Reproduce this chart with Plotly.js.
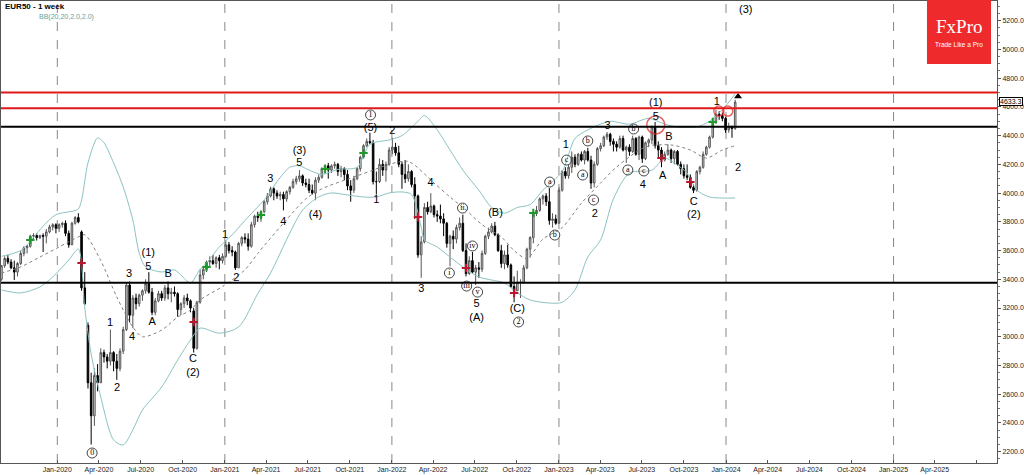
<!DOCTYPE html>
<html><head><meta charset="utf-8">
<script src="https://cdn.plot.ly/plotly-3.0.1.min.js"></script>
<style>html,body{margin:0;padding:0;background:#fff;overflow:hidden}#chart{width:1024px;height:475px}</style>
</head><body><div id="chart"></div>
<script>
// Weekly candles, first week starting 2019-09-01
const firstWeek = Date.UTC(2019, 8, 1);
const open = [
3400,3495,3545,3520,3480,3450,3510,3580,3620,3630,
3700,3705,3690,3705,3700,3730,3765,3780,3755,3780,
3790,3720,3640,3790,3830,3730,3340,3080,2680,2450,
2730,2680,2890,2860,2830,2890,2830,2780,2900,3050,
3360,3150,3270,3230,3290,3320,3370,3310,3170,3250,
3300,3270,3340,3300,3310,3300,3190,3230,3270,3250,
3180,2920,3240,3430,3470,3520,3530,3510,3550,3530,
3560,3640,3600,3590,3480,3650,3690,3680,3630,3780,
3840,3830,3870,3940,3980,4030,4000,3980,3990,3960,
4010,4040,4080,4100,4120,4070,4060,4020,4000,4090,
4110,4170,4190,4160,4190,4200,4150,4170,4130,4050,
4020,4100,4170,4250,4330,4360,4350,4080,4080,4200,
4160,4200,4300,4320,4280,4200,4130,4100,4150,4060,
3980,3570,3660,3900,3870,3910,3850,3840,3820,3790,
3650,3700,3680,3760,3790,3600,3440,3530,3450,3480,
3470,3580,3700,3730,3770,3710,3600,3510,3570,3500,
3350,3320,3380,3380,3480,3610,3690,3860,3880,3960,
3980,3940,3810,3820,3790,4020,4150,4120,4180,4250,
4200,4270,4230,4290,4230,4070,4200,4310,4330,4390,
4410,4360,4340,4320,4380,4300,4320,4290,4380,4270,
4390,4240,4350,4370,4460,4330,4300,4230,4270,4300,
4240,4290,4200,4170,4120,4110,4040,4020,4150,4180,
4270,4320,4390,4500,4550,4540,4520,4440,4460,4450];
const high = [
3500,3560,3570,3540,3530,3520,3600,3630,3640,3710,
3720,3720,3710,3720,3750,3780,3790,3790,3790,3800,
3810,3740,3800,3840,3860,3740,3450,3100,2750,2780,
2810,2920,2910,2880,3050,2900,2880,2920,3070,3380,
3385,3290,3300,3300,3330,3400,3450,3340,3270,3320,
3320,3360,3385,3340,3350,3310,3240,3290,3300,3260,
3200,3250,3470,3480,3530,3560,3570,3560,3570,3580,
3670,3660,3630,3600,3660,3700,3720,3720,3800,3850,
3870,3880,3950,4000,4045,4040,4020,4010,4010,4020,
4050,4100,4120,4160,4130,4100,4100,4060,4110,4130,
4180,4200,4210,4200,4220,4210,4190,4180,4160,4090,
4120,4180,4260,4340,4380,4420,4370,4150,4240,4230,
4220,4320,4385,4350,4330,4220,4230,4200,4160,4110,
3990,3700,3930,3940,4000,3920,3880,3920,3860,3800,
3710,3740,3780,3830,3850,3650,3560,3590,3500,3520,
3600,3710,3760,3790,3800,3720,3640,3600,3640,3510,
3420,3460,3400,3500,3620,3700,3880,3910,3970,3990,
4000,4035,3860,3850,4040,4160,4180,4200,4290,4270,
4280,4290,4300,4315,4260,4220,4320,4350,4400,4425,
4420,4380,4360,4400,4400,4330,4340,4400,4390,4400,
4400,4360,4380,4470,4495,4360,4320,4290,4340,4310,
4300,4300,4220,4200,4200,4130,4060,4160,4190,4290,
4330,4400,4520,4580,4570,4560,4530,4490,4470,4650];
const low = [
3390,3480,3505,3470,3395,3420,3500,3560,3580,3620,
3680,3670,3680,3590,3650,3720,3740,3720,3730,3760,
3700,3620,3640,3780,3790,3320,3220,2640,2250,2380,
2620,2680,2820,2780,2800,2760,2700,2760,2880,3040,
3100,3060,3190,3210,3250,3300,3300,3150,3150,3240,
3250,3250,3260,3240,3280,3140,3150,3200,3220,3170,
2890,2910,3230,3400,3450,3480,3500,3480,3470,3510,
3550,3580,3560,3465,3480,3630,3650,3600,3620,3760,
3800,3800,3860,3920,3970,3950,3960,3950,3880,3940,
3990,4030,4060,4080,4050,4040,4000,3990,3950,4070,
4100,4150,4100,4140,4170,4120,4110,4090,4020,3940,
4000,4090,4150,4240,4320,4340,4060,3990,4070,4120,
4080,4190,4270,4260,4180,4030,4070,4080,4040,3820,
3550,3410,3650,3850,3860,3830,3800,3790,3700,3620,
3490,3610,3650,3740,3590,3420,3430,3440,3360,3410,
3450,3570,3680,3720,3700,3590,3480,3470,3480,3340,
3240,3320,3270,3370,3470,3550,3650,3840,3870,3920,
3910,3780,3760,3780,3790,4010,4100,4100,4140,4180,
4190,4220,4200,4220,4030,4040,4190,4290,4320,4370,
4330,4290,4290,4310,4290,4210,4260,4280,4260,4230,
4210,4230,4320,4340,4310,4250,4180,4220,4260,4210,
4200,4190,4130,4100,4090,4030,4000,4010,4130,4170,
4260,4310,4380,4480,4510,4500,4420,4420,4385,4440];
const close = [
3495,3545,3520,3480,3450,3510,3580,3620,3630,3700,
3705,3690,3705,3700,3730,3765,3780,3755,3780,3790,
3720,3640,3790,3830,3800,3340,3230,2680,2450,2730,
2680,2890,2860,2830,2890,2830,2780,2900,3050,3360,
3150,3270,3230,3290,3320,3370,3310,3170,3250,3300,
3270,3340,3300,3310,3300,3190,3230,3270,3250,3200,
2920,3240,3430,3470,3520,3530,3510,3550,3530,3560,
3640,3600,3590,3480,3650,3690,3680,3630,3780,3840,
3830,3870,3940,3980,4030,4000,3980,3990,3960,4010,
4040,4080,4100,4120,4070,4060,4020,4000,4090,4110,
4170,4190,4160,4190,4200,4150,4170,4130,4050,4020,
4100,4170,4250,4330,4360,4350,4080,4080,4200,4160,
4200,4300,4320,4280,4200,4130,4100,4150,4060,3980,
3570,3660,3900,3870,3910,3850,3840,3820,3790,3650,
3700,3680,3760,3790,3600,3440,3530,3450,3480,3470,
3580,3700,3730,3770,3710,3600,3510,3570,3500,3350,
3320,3380,3380,3480,3610,3690,3860,3880,3960,3980,
3940,3810,3820,3790,4020,4150,4120,4180,4250,4200,
4270,4230,4290,4230,4070,4200,4310,4330,4390,4410,
4360,4340,4320,4380,4300,4320,4290,4380,4270,4390,
4240,4350,4370,4460,4330,4300,4230,4270,4300,4240,
4290,4200,4170,4120,4110,4040,4020,4150,4180,4270,
4320,4390,4500,4550,4540,4520,4440,4460,4450,4633.3];

// Bollinger Bands (20, 2.0) at sample weeks
const upperWeeks = [0,6,10,13,17,21,24,27,30,32,35,38,41,43,45,50,54,56,59,62,64,68,72,77,79,83,86,90,93,96,100,105,111,115,121,125,130,132,136,140,144,149,153,157,161,165,169,175,179,183,187,190,196,202,207,211,217,221,225,229];
const upperVals  = [3560,3600,3690,3770,3850,3870,3890,4210,4384,4350,4210,4043,3813,3583,3486,3451,3465,3430,3374,3470,3513,3625,3710,3834,3880,3980,4080,4180,4190,4160,4130,4165,4180,4340,4370,4400,4500,4540,4440,4300,4160,4020,3900,3860,3900,3920,4020,4150,4380,4440,4480,4500,4480,4520,4480,4460,4460,4500,4580,4690];
const midWeeks = [0,6,12,18,24,26,31,36,41,44,50,55,59,62,69,76,80,88,95,100,111,116,121,127,135,140,145,150,156,160,164,169,175,181,187,192,201,209,215,220,225,229];
const midVals  = [3444,3486,3555,3625,3695,3710,3530,3277,3068,3000,3047,3137,3186,3256,3350,3466,3580,3790,3960,4030,4120,4160,4200,4220,4070,3973,3882,3780,3695,3600,3545,3680,3760,3930,4070,4182,4321,4335,4300,4244,4300,4330];
const lowerWeeks = [0,6,12,16,21,24,26,28,31,35,38,41,44,50,55,59,62,68,74,80,84,90,94,99,103,108,113,117,121,125,128,131,132,136,140,144,149,153,157,161,165,171,175,179,183,187,191,196,203,207,210,214,217,221,225,229];
const lowerVals  = [3326,3305,3347,3416,3534,3610,3200,2880,2580,2282,2247,2352,2490,2650,2838,2978,3060,3025,3068,3300,3444,3722,3882,3973,4001,3987,3973,3973,4001,4008,3990,3764,3674,3625,3555,3486,3416,3395,3374,3305,3256,3235,3240,3326,3555,3674,3960,4140,4160,4244,4209,4140,4022,3973,3966,3966];

// Signal marks
const greenWeeks = [9,64,81,101,113,166,222];
const greenPrices = [3674,3486,3848,4168,4279,3861,4495];
const redWeeks = [25,60,130,145,160,206,215];
const redPrices = [3513,3103,3834,3479,3305,4244,4077];
const ringWeeks = [204.2,223.9,226.7];
const ringPrices = [4474,4571,4571];
const ringSizes = [18,10,10];

// Horizontal levels
const redLevels = [4700,4590];
const blackLevels = [4462,3376];
const lastPrice = 4633.3;

// Elliott wave labels: week, price, text, circled
const waveWeeks  = [28.3,33.9,36.1,39.8,40.8,45.8,45.8,47,52,59.8,59.8,69.8,73.3,83.9,88,93,93,98,115.2,115.2,117,122,133.9,131,139.8,143.9,145.2,147,148.6,148.3,148.3,154.2,161,161.4,171.1,172.7,176.1,176.4,181.4,183,184.8,185.2,189.2,195.5,197.3,200.5,200.2,204.2,204.2,208.3,206.4,216.1,216.1,223.3,229.9,232.3];
const wavePrices = [2191,3096,2643,3437,2998,3583,3486,3103,3437,2845,2748,3708,3409,4098,3799,4293,4209,3848,4544,4453,3952,4432,4070,3332,3444,3896,3353,3632,3311,3228,3131,3861,3193,3103,4077,3708,4335,4230,4126,4363,3952,3854,4467,4161,4446,4154,4056,4627,4530,4390,4119,3938,3847,4634,4175,5275];
const waveTexts  = ['0','1','2','3','4','(1)','5','A','B','C','(2)','1','2','3','4','(3)','5','(4)','1','(5)','1','2','4','3','i','ii','iii','iv','v','5','(A)','(B)','(C)','2','a','b','1','c','a','b','c','2','3','a','b','c','4','(1)','5','B','A','C','(2)','1','2','(3)'];
const waveCircled= [1,0,0,0,0,0,0,0,0,0,0,0,0,0,0,0,0,0,1,0,0,0,0,0,1,1,1,1,1,0,0,0,0,1,1,1,0,1,1,1,1,0,0,1,1,1,0,0,0,0,0,0,0,0,0,0];

const monthNames = ['Jan','Apr','Jul','Oct'];

function wk(i){
  const d = new Date(firstWeek + i*7*864e5);
  return d.toISOString().slice(0,19).replace('T',' ');
}
const dates = close.map((_, i) => wk(i));

const traces = [];
traces.push({type:'scatter',mode:'lines',x:upperWeeks.map(wk),y:upperVals,line:{color:'#8cc2c2',width:1,shape:'spline',smoothing:0.8},hoverinfo:'skip'});
traces.push({type:'scatter',mode:'lines',x:lowerWeeks.map(wk),y:lowerVals,line:{color:'#8cc2c2',width:1,shape:'spline',smoothing:0.8},hoverinfo:'skip'});
traces.push({type:'scatter',mode:'lines',x:midWeeks.map(wk),y:midVals,line:{color:'#808080',width:1,dash:'dot',shape:'spline',smoothing:0.8},hoverinfo:'skip'});
traces.push({type:'candlestick',x:dates,open:open,high:high,low:low,close:close,whiskerwidth:0,
  increasing:{line:{color:'#555555',width:1},fillcolor:'#dcdcdc'},
  decreasing:{line:{color:'#000000',width:1},fillcolor:'#000000'},hoverinfo:'skip'});
traces.push({type:'scatter',mode:'markers',x:greenWeeks.map(wk),y:greenPrices,marker:{symbol:'cross-thin',size:6,line:{color:'#1e9a2a',width:2}},hoverinfo:'skip'});
traces.push({type:'scatter',mode:'markers',x:redWeeks.map(wk),y:redPrices,marker:{symbol:'cross-thin',size:6,line:{color:'#c0142a',width:2}},hoverinfo:'skip'});
traces.push({type:'scatter',mode:'markers',x:ringWeeks.map(wk),y:ringPrices,marker:{symbol:'circle-open',size:ringSizes,color:'#e02020',line:{color:'#e02020',width:1.5}},hoverinfo:'skip'});
traces.push({type:'scatter',mode:'markers',x:[wk(229.9)],y:[4672],marker:{symbol:'triangle-up',size:7,color:'#000'},hoverinfo:'skip'});

const pI = [], cI = [];
waveTexts.forEach((t,k)=>{ (waveCircled[k]?cI:pI).push(k); });
traces.push({type:'scatter',mode:'text',x:pI.map(k=>wk(waveWeeks[k])),y:pI.map(k=>wavePrices[k]),text:pI.map(k=>waveTexts[k]),
  textposition:'middle center',textfont:{family:'Liberation Sans, Arial, sans-serif',size:11,color:'#000000'},hoverinfo:'skip'});
traces.push({type:'scatter',mode:'markers+text',x:cI.map(k=>wk(waveWeeks[k])),y:cI.map(k=>wavePrices[k]),text:cI.map(k=>waveTexts[k]),
  textposition:'middle center',textfont:{family:'Liberation Serif, serif',size:8,color:'#000000'},
  marker:{symbol:'circle-open',size:10,color:'#444',line:{color:'#444',width:1}},hoverinfo:'skip'});

// axis ticks
const tickvals = [], ticktext = [];
for (let y = 2020; y <= 2025; y++) {
  for (let q = 0; q < 4; q++) {
    if (y === 2025 && q > 2) break;
    tickvals.push(`${y}-${String(q*3+1).padStart(2,'0')}-01`);
    ticktext.push((y === 2025 && q === 2) ? '' : `${monthNames[q]}-${y}`);
  }
}

const shapes = [];
for (let y = 2020; y <= 2025; y++) {
  shapes.push({type:'line',xref:'x',yref:'paper',x0:`${y}-01-01`,x1:`${y}-01-01`,y0:0,y1:1,line:{color:'#888',width:1,dash:'dash'},layer:'below'});
}
redLevels.forEach(v=>shapes.push({type:'line',xref:'paper',yref:'y',x0:0,x1:1,y0:v,y1:v,line:{color:'#e01818',width:2},layer:'above'}));
blackLevels.forEach(v=>shapes.push({type:'line',xref:'paper',yref:'y',x0:0,x1:1,y0:v,y1:v,line:{color:'#000',width:2},layer:'above'}));
shapes.push({type:'rect',xref:'paper',yref:'paper',x0:0.9297,x1:0.994,y0:0.8636,y1:1.003,fillcolor:'#ee2a2d',line:{width:0},layer:'above'});

const annotations = [
  {xref:'paper',yref:'paper',x:0.002,y:0.989,xanchor:'left',yanchor:'middle',text:'<b>EUR50 - 1 week</b>',showarrow:false,font:{family:'Liberation Sans, Arial',size:8,color:'#000'}},
  {xref:'paper',yref:'paper',x:0.036,y:0.966,xanchor:'left',yanchor:'middle',text:'BB(20,20,2.0,2.0)',showarrow:false,font:{family:'Liberation Sans, Arial',size:7,color:'#5aa5a5'}},
  {xref:'paper',yref:'paper',x:0.9618,y:0.945,xanchor:'center',yanchor:'middle',text:'FxPro',showarrow:false,font:{family:'Liberation Serif, serif',size:19,color:'#fff'}},
  {xref:'paper',yref:'paper',x:0.9618,y:0.905,xanchor:'center',yanchor:'middle',text:'Trade Like a Pro',showarrow:false,font:{family:'Liberation Sans, Arial',size:6.5,color:'#fff'}},
  {xref:'paper',yref:'y',x:1.002,y:lastPrice,xanchor:'left',yanchor:'bottom',yshift:-4,text:lastPrice.toFixed(1),showarrow:false,bgcolor:'#fff',bordercolor:'#000',borderwidth:1,borderpad:0,font:{family:'Liberation Sans, Arial',size:7,color:'#000'}}
];

const layout = {
  width:1024,height:475,margin:{l:1,r:27,t:1,b:12},
  paper_bgcolor:'#fff',plot_bgcolor:'#fff',showlegend:false,
  xaxis:{type:'date',range:['2019-08-31','2025-08-15'],rangeslider:{visible:false},showgrid:false,zeroline:false,
    showline:true,mirror:true,linecolor:'#555',linewidth:1,ticks:'inside',ticklen:3,tickcolor:'#555',
    tickmode:'array',tickvals:tickvals,ticktext:ticktext,tickfont:{family:'Liberation Sans, Arial',size:7,color:'#222'},fixedrange:true},
  yaxis:{side:'right',range:[2121.4,5337.1],tick0:2200,dtick:200,tickformat:'.1f',showgrid:false,zeroline:false,
    showline:true,mirror:true,linecolor:'#555',linewidth:1,ticks:'outside',ticklen:3,tickcolor:'#555',
    minor:{dtick:50,ticks:'outside',ticklen:2,tickcolor:'#777'},
    tickfont:{family:'Liberation Sans, Arial',size:7,color:'#222'},fixedrange:true},
  shapes:shapes,annotations:annotations,hovermode:false
};

Plotly.newPlot('chart',traces,layout,{displayModeBar:false,staticPlot:true});
</script>
</body></html>
